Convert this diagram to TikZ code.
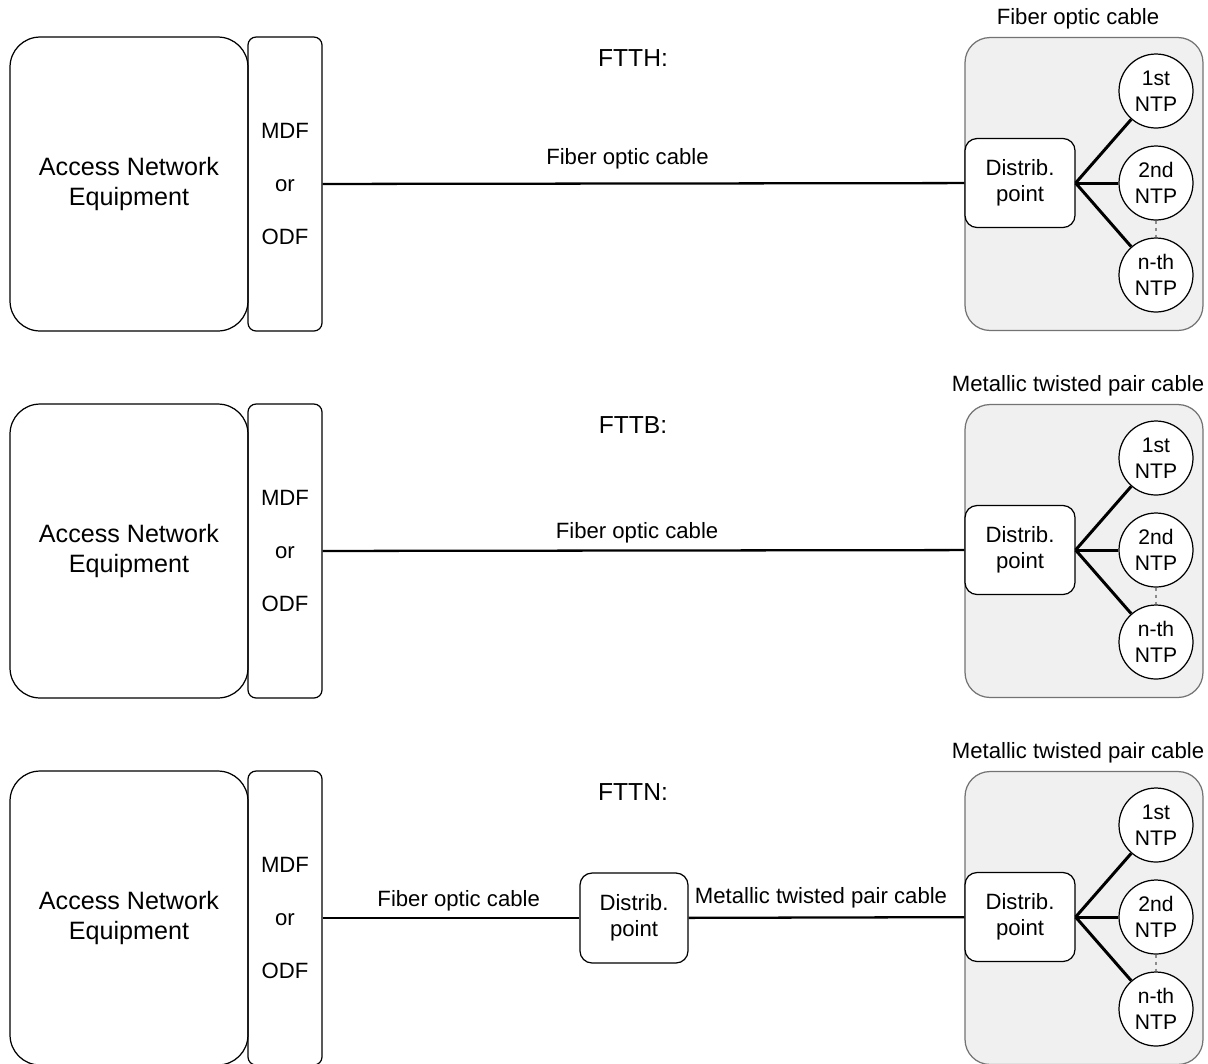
\documentclass[tikz,border=0pt]{standalone}
\usepackage{fontspec}
\setmainfont{Liberation Sans}

\tikzset{
  equip/.style={draw, line width=0.7pt, rounded corners=0.6cm, minimum width=4.76cm, minimum height=5.88cm, align=center, font=\fontsize{14.3}{17}\selectfont},
  mdfbox/.style={draw, line width=0.7pt, rounded corners=0.16cm, minimum width=1.48cm, minimum height=5.88cm, align=center},
  premises/.style={draw=black!55, line width=0.7pt, fill=black!6, rounded corners=0.5cm, minimum width=4.76cm, minimum height=5.86cm},
  distrib/.style={draw, line width=0.7pt, fill=white, rounded corners=0.24cm, minimum width=2.2cm, minimum height=1.78cm, align=center},
  ntp/.style={draw, line width=0.7pt, circle, fill=white, minimum size=1.48cm, inner sep=0pt, align=center, font=\fontsize{12}{14.7}\selectfont},
  cable/.style={line width=1.3pt},
  droplink/.style={line width=1.7pt},
  dotlink/.style={black!45, dashed, dash pattern=on 2pt off 2pt, line width=0.8pt},
}

\begin{document}
\begin{tikzpicture}[x=0.02cm, y=-0.02cm, font=\fontsize{12.6}{15}\selectfont]
  \path[use as bounding box, fill=white] (0,0) rectangle (1208,1063);
  % the three access variants
  \foreach \r/\y/\tag/\kind in {1/183/FTTH/Fiber optic cable, 2/550/FTTB/Metallic twisted pair cable, 3/917/FTTN/Metallic twisted pair cable} {
    \node[equip] (ane\r) at (129,\y+1) {Access Network\\Equipment};
    \node[mdfbox] (mdf\r) at (285,\y+1) {MDF\\[5.3mm]or\\[5.3mm]ODF};
    \node[font=\fontsize{14}{17}\selectfont] (tag\r) at (633,\y-125) {\tag:};
    % building side
    \node[premises] (home\r) at (1084,\y+1) {};
    \node (kind\r) at (1078,\y-164) {\kind};
    \node[distrib] (dp\r) at (1020,\y) {Distrib.\\point};
    \node[ntp] (ntpa\r) at (1156,\y-92) {1st\\NTP};
    \node[ntp] (ntpb\r) at (1156,\y) {2nd\\NTP};
    \node[ntp] (ntpc\r) at (1156,\y+92) {n-th\\NTP};
    \draw[droplink] (dp\r.east) -- (ntpa\r);
    \draw[droplink] (dp\r.east) -- (ntpb\r);
    \draw[droplink] (dp\r.east) -- (ntpc\r);
    \draw[dotlink] (ntpb\r) -- (ntpc\r);
  }
  % feeder cables
  \draw[cable] (mdf1) -- node[above, pos=0.475, yshift=0.14cm] {Fiber optic cable} (dp1);
  \draw[cable] (mdf2) -- node[above, pos=0.49] {Fiber optic cable} (dp2);
  % FTTN street cabinet
  \node[distrib, minimum width=2.16cm, minimum height=1.8cm] (cab) at (634,918) {Distrib.\\point};
  \draw[cable] (mdf3) -- node[above, pos=0.53] {Fiber optic cable} (cab);
  \draw[cable] (cab) -- node[above, pos=0.48, yshift=0.04cm] {Metallic twisted pair cable} (dp3);
\end{tikzpicture}
\end{document}
